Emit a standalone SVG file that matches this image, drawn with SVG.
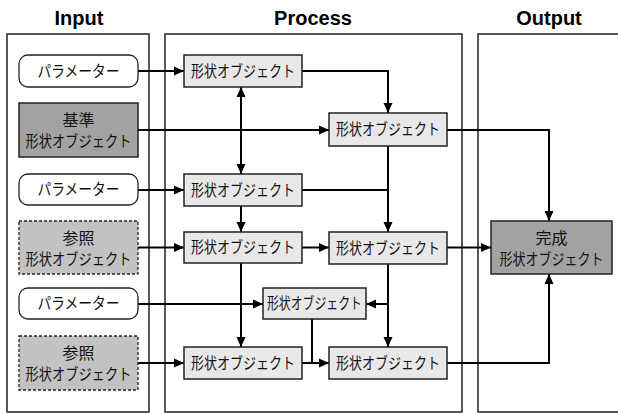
<svg xmlns="http://www.w3.org/2000/svg" width="618" height="414" viewBox="0 0 618 414">
<defs>
<marker id="ah" viewBox="0 0 10 10" refX="10" refY="5" markerWidth="10" markerHeight="10" markerUnits="userSpaceOnUse" orient="auto-start-reverse">
<path d="M0,0.5 L10,5 L0,9.5 Z" fill="#000"/>
</marker>
<style>
.panel{fill:#fff;stroke:#222;stroke-width:1.5}
.title{font-family:"Liberation Sans",Arial,sans-serif;font-weight:bold;font-size:20px;text-anchor:middle;fill:#000}
.t{font-family:"Noto Sans CJK JP","Noto Sans CJK SC",sans-serif;font-size:15.5px;text-anchor:middle;fill:#111}
.param{fill:#fff;stroke:#222;stroke-width:1.3}
.base{fill:#a2a2a2;stroke:#222;stroke-width:1.5}
.ref{fill:#c2c2c2;stroke:#222;stroke-width:1.3;stroke-dasharray:3,2}
.proc{fill:#e8e8e8;stroke:#222;stroke-width:1.5}
.out{fill:#a2a2a2;stroke:#222;stroke-width:1.5}
.c{fill:none;stroke:#000;stroke-width:2}
.a{marker-end:url(#ah)}
</style>
</defs>
<rect width="618" height="414" fill="#fff"/>
<g id="panels">
<rect class="panel" x="7" y="34" width="142" height="378"/>
<rect class="panel" x="165" y="34" width="297" height="378"/>
<path class="panel" d="M620,34 H478 V412 H620"/>
<text class="title" x="79" y="25">Input</text>
<text class="title" x="313" y="25">Process</text>
<text class="title" x="549" y="25">Output</text>
</g>
<g id="connectors">
<line class="c a" x1="138" y1="71" x2="184" y2="71"/>
<path class="c a" d="M302,71 H388 V113"/>
<line class="c a" x1="138" y1="130" x2="329" y2="130"/>
<line class="c a" x1="241" y1="87" x2="241" y2="174" marker-start="url(#ah)"/>
<path class="c a" d="M447,130 H549 V221"/>
<line class="c a" x1="138" y1="190" x2="184" y2="190"/>
<line class="c" x1="302" y1="190" x2="388" y2="190"/>
<line class="c a" x1="388" y1="146" x2="388" y2="232"/>
<line class="c a" x1="241" y1="206" x2="241" y2="232"/>
<line class="c a" x1="138" y1="247.5" x2="184" y2="247.5"/>
<line class="c a" x1="302" y1="247.5" x2="329" y2="247.5"/>
<line class="c a" x1="447" y1="247.5" x2="491" y2="247.5"/>
<line class="c a" x1="138" y1="304" x2="263" y2="304"/>
<line class="c a" x1="241" y1="263" x2="241" y2="347"/>
<line class="c a" x1="388" y1="264" x2="388" y2="347"/>
<line class="c a" x1="388" y1="304" x2="366" y2="304"/>
<line class="c" x1="312" y1="319" x2="312" y2="363"/>
<line class="c a" x1="302" y1="363" x2="329" y2="363"/>
<line class="c a" x1="138" y1="363" x2="184" y2="363"/>
<path class="c a" d="M447,363 H549 V274"/>
</g>
<g id="param1"><rect class="param" x="19" y="55" width="119" height="32" rx="9"/><text class="t" x="78.5" y="76.5" textLength="82" lengthAdjust="spacingAndGlyphs">パラメーター</text></g>
<g id="base"><rect class="base" x="19" y="103" width="119" height="54"/><text class="t" x="78.5" y="126" textLength="32" lengthAdjust="spacingAndGlyphs">基準</text><text class="t" x="78.5" y="147" textLength="106" lengthAdjust="spacingAndGlyphs">形状オブジェクト</text></g>
<g id="param2"><rect class="param" x="19" y="174" width="119" height="31" rx="9"/><text class="t" x="78.5" y="195" textLength="82" lengthAdjust="spacingAndGlyphs">パラメーター</text></g>
<g id="ref1"><rect class="ref" x="19" y="221" width="119" height="53"/><text class="t" x="78.5" y="244" textLength="32" lengthAdjust="spacingAndGlyphs">参照</text><text class="t" x="78.5" y="265" textLength="106" lengthAdjust="spacingAndGlyphs">形状オブジェクト</text></g>
<g id="param3"><rect class="param" x="19" y="288" width="119" height="31" rx="9"/><text class="t" x="78.5" y="309" textLength="82" lengthAdjust="spacingAndGlyphs">パラメーター</text></g>
<g id="ref2"><rect class="ref" x="19" y="336" width="119" height="54"/><text class="t" x="78.5" y="359" textLength="32" lengthAdjust="spacingAndGlyphs">参照</text><text class="t" x="78.5" y="380" textLength="106" lengthAdjust="spacingAndGlyphs">形状オブジェクト</text></g>
<g id="p1"><rect class="proc" x="184" y="55" width="118" height="32"/><text class="t" x="243" y="76.5" textLength="104" lengthAdjust="spacingAndGlyphs">形状オブジェクト</text></g>
<g id="p2"><rect class="proc" x="329" y="113" width="118" height="33"/><text class="t" x="388" y="135" textLength="104" lengthAdjust="spacingAndGlyphs">形状オブジェクト</text></g>
<g id="p3"><rect class="proc" x="184" y="174" width="118" height="32"/><text class="t" x="243" y="195.5" textLength="104" lengthAdjust="spacingAndGlyphs">形状オブジェクト</text></g>
<g id="p4"><rect class="proc" x="184" y="232" width="118" height="31"/><text class="t" x="243" y="253" textLength="104" lengthAdjust="spacingAndGlyphs">形状オブジェクト</text></g>
<g id="p5"><rect class="proc" x="329" y="232" width="118" height="32"/><text class="t" x="388" y="253.5" textLength="104" lengthAdjust="spacingAndGlyphs">形状オブジェクト</text></g>
<g id="p6"><rect class="proc" x="263" y="288" width="103" height="31"/><text class="t" x="314.5" y="309" textLength="95" lengthAdjust="spacingAndGlyphs">形状オブジェクト</text></g>
<g id="p7"><rect class="proc" x="184" y="347" width="118" height="32"/><text class="t" x="243" y="368.5" textLength="104" lengthAdjust="spacingAndGlyphs">形状オブジェクト</text></g>
<g id="p8"><rect class="proc" x="329" y="347" width="118" height="32"/><text class="t" x="388" y="368.5" textLength="104" lengthAdjust="spacingAndGlyphs">形状オブジェクト</text></g>
<g id="output"><rect class="out" x="491" y="221" width="121" height="53"/><text class="t" x="551.5" y="244" textLength="32" lengthAdjust="spacingAndGlyphs">完成</text><text class="t" x="551.5" y="265" textLength="104" lengthAdjust="spacingAndGlyphs">形状オブジェクト</text></g>
</svg>
